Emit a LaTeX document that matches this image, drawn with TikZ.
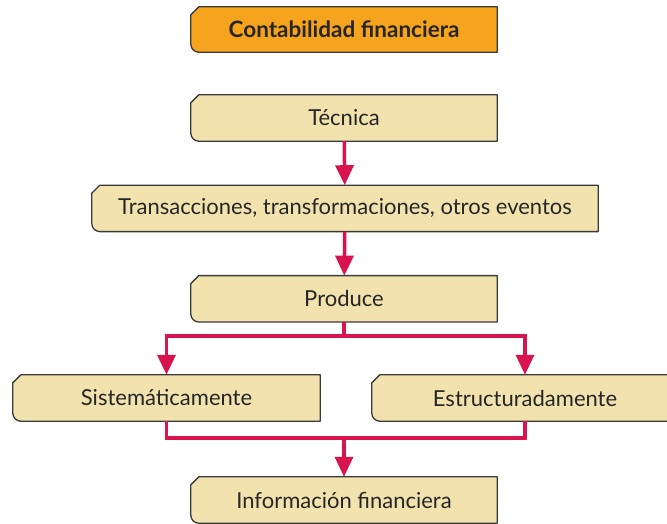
\documentclass[tikz,border=0pt]{standalone}
\usepackage{fontspec}
\setmainfont{Lato}
\usepackage{tikz}
\usetikzlibrary{arrows.meta,positioning,backgrounds}

\definecolor{crimson}{RGB}{215,20,78}
\definecolor{beige}{RGB}{242,226,174}
\definecolor{amber}{RGB}{246,163,30}
\definecolor{edge}{RGB}{58,58,58}

\begin{document}
\begin{tikzpicture}[
  x=1pt, y=1pt,
  node distance = 44pt and 50pt,
  > = {Triangle[width=18pt,length=20pt]},
  stage/.style = {rectangle, inner sep=0pt, minimum width=306pt,
                  minimum height=46pt, text=black!85,
                  font=\fontsize{22}{26}\selectfont},
  title/.style = {stage, minimum height=45pt,
                  font=\fontsize{22.5}{26}\selectfont\bfseries},
  flow/.style  = {draw=crimson, line width=3.5pt},
  tabline/.style = {draw=edge, line width=1.3pt, line join=round}
]
\useasboundingbox (0,0) rectangle (667,-524);

\node[title] (cont) at (344,-29.5) {Contabilidad financiera};
\node[stage] (tec) at (344,-118) {Técnica};
\node[stage, below=of tec, minimum width=506pt, xshift=1pt] (trans)
  {Transacciones, transformaciones, otros eventos};
\node[stage, below=of trans, xshift=-1pt] (prod) {Produce};
\node[stage, minimum width=307pt] (sis) at (166.5,-398) {Sistemáticamente};
\node[stage] (est) at (525,-398) {Estructuradamente};
\node[stage] (info) at (344,-500) {Información financiera};

% tab shaped boxes behind the text
\begin{scope}[on background layer]
\foreach \n/\c in {cont/amber, tec/beige, trans/beige, prod/beige,
                   sis/beige, est/beige, info/beige}
  \draw[tabline, fill=\c] ([xshift=8pt]\n.north west) -- (\n.north east)
    -- (\n.south east) -- ([xshift=8pt]\n.south west)
    arc[start angle=270, end angle=180, radius=8pt]
    -- ([yshift=-8pt]\n.north west) -- cycle;
\end{scope}

\coordinate (split) at (344,-336);
\coordinate (join) at (344,-438);

\draw[flow, ->] (tec) -- (trans);
\draw[flow, ->] (trans) -- (prod);
\draw[flow] (prod) -- (split);
\draw[flow, ->] (split) -| (sis);
\draw[flow, ->] (split) -| (est);
\draw[flow] (sis) |- (join);
\draw[flow] (est) |- (join);
\draw[flow, ->] (join) -- (info);
\end{tikzpicture}
\end{document}
